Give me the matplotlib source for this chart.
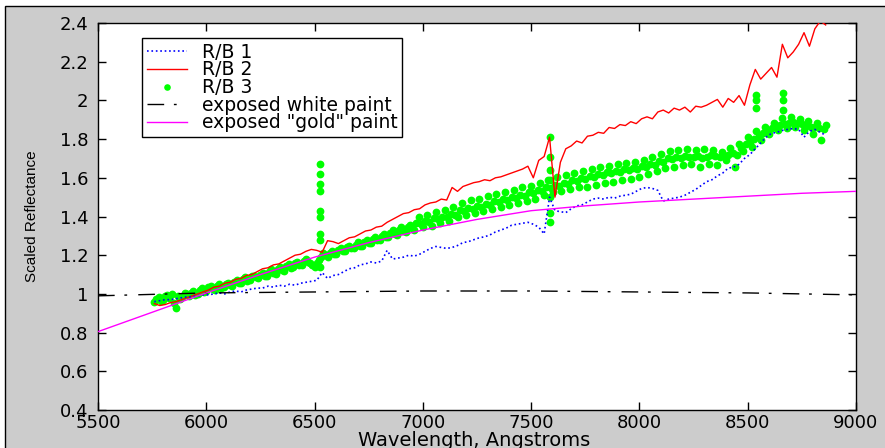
import matplotlib
matplotlib.use("Agg")
import matplotlib.pyplot as plt
from matplotlib.patches import Rectangle
import numpy as np

plt.rcParams['font.family'] = ['DejaVu Sans']

# sampling grids (Angstroms)
wl_line = np.arange(5760, 8861, 25)
wl_dots = np.arange(5760, 8861, 20)
wl_dots2 = np.arange(5770, 8851, 20)

rb1 = [0.96, 0.965, 0.97, 0.97, 0.975, 0.98, 0.985, 0.985, 0.99, 0.995,
       0.995, 1.0, 1.005, 1.0, 1.01, 1.015, 1.01, 1.02, 1.025, 1.03,
       1.03, 1.04, 1.035, 1.045, 1.04, 1.05, 1.045, 1.055, 1.06, 1.065,
       1.07, 1.11, 1.08, 1.095, 1.10, 1.115, 1.13, 1.135, 1.15, 1.155,
       1.165, 1.16, 1.17, 1.225, 1.18, 1.185, 1.19, 1.20, 1.195, 1.205,
       1.22, 1.235, 1.245, 1.24, 1.235, 1.24, 1.25, 1.265, 1.27, 1.28,
       1.29, 1.295, 1.305, 1.32, 1.33, 1.34, 1.355, 1.36, 1.365, 1.37,
       1.36, 1.345, 1.31, 1.50, 1.43, 1.425, 1.42, 1.44, 1.455, 1.46,
       1.475, 1.49, 1.495, 1.49, 1.50, 1.495, 1.505, 1.51, 1.515, 1.53,
       1.545, 1.55, 1.545, 1.535, 1.48, 1.49, 1.495, 1.50, 1.51, 1.525,
       1.54, 1.56, 1.58, 1.59, 1.61, 1.625, 1.65, 1.655, 1.67, 1.70,
       1.72, 1.75, 1.78, 1.81, 1.83, 1.835, 1.845, 1.85, 1.855, 1.85,
       1.81, 1.84, 1.85, 1.835, 1.82]

rb2 = [0.95, 0.94, 0.945, 0.955, 0.96, 0.97, 0.98, 0.99, 1.00, 1.01,
       1.02, 1.035, 1.04, 1.055, 1.06, 1.075, 1.08, 1.095, 1.10, 1.115,
       1.13, 1.135, 1.15, 1.155, 1.17, 1.185, 1.20, 1.205, 1.22, 1.23,
       1.225, 1.215, 1.275, 1.27, 1.26, 1.275, 1.29, 1.295, 1.31, 1.325,
       1.33, 1.345, 1.35, 1.37, 1.385, 1.40, 1.415, 1.42, 1.435, 1.44,
       1.46, 1.47, 1.475, 1.49, 1.485, 1.55, 1.53, 1.555, 1.565, 1.575,
       1.58, 1.59, 1.585, 1.60, 1.605, 1.615, 1.625, 1.635, 1.645, 1.66,
       1.60, 1.69, 1.71, 1.81, 1.50, 1.68, 1.75, 1.765, 1.79, 1.78,
       1.815, 1.82, 1.835, 1.83, 1.86, 1.855, 1.875, 1.87, 1.89, 1.88,
       1.905, 1.915, 1.905, 1.94, 1.95, 1.935, 1.96, 1.95, 1.965, 1.94,
       1.97, 1.965, 1.975, 1.99, 2.005, 1.965, 2.01, 1.99, 2.025, 1.975,
       2.08, 2.16, 2.11, 2.14, 2.17, 2.12, 2.29, 2.22, 2.25, 2.29,
       2.35, 2.28, 2.37, 2.41, 2.39]

# R/B 3 is a dense scatter: two interleaved readings of the band
rb3 = [0.96, 0.985, 0.97, 0.995, 1.0, 0.925, 0.975, 1.005, 0.99, 1.015,
       1.00, 1.03, 1.015, 1.04, 1.02, 1.05, 1.035, 1.055, 1.04, 1.07,
       1.055, 1.085, 1.07, 1.095, 1.08, 1.11, 1.095, 1.13, 1.105, 1.14,
       1.12, 1.155, 1.14, 1.165, 1.15, 1.18, 1.16, 1.14, 1.175, 1.21,
       1.19, 1.22, 1.205, 1.235, 1.22, 1.25, 1.235, 1.27, 1.25, 1.28,
       1.265, 1.295, 1.28, 1.31, 1.295, 1.33, 1.305, 1.345, 1.32, 1.355,
       1.33, 1.40, 1.345, 1.41, 1.35, 1.425, 1.365, 1.435, 1.375, 1.45,
       1.40, 1.47, 1.41, 1.485, 1.42, 1.49, 1.43, 1.505, 1.44, 1.515,
       1.45, 1.525, 1.46, 1.535, 1.47, 1.55, 1.48, 1.56, 1.49, 1.575,
       1.51, 1.59, 1.525, 1.605, 1.53, 1.615, 1.54, 1.625, 1.55, 1.635,
       1.555, 1.645, 1.565, 1.655, 1.575, 1.66, 1.58, 1.67, 1.59, 1.675,
       1.595, 1.68, 1.605, 1.69, 1.62, 1.705, 1.635, 1.725, 1.65, 1.74,
       1.655, 1.745, 1.665, 1.75, 1.67, 1.745, 1.655, 1.75, 1.67, 1.745,
       1.665, 1.735, 1.69, 1.755, 1.655, 1.775, 1.74, 1.81, 1.76, 1.84,
       1.795, 1.865, 1.825, 1.885, 1.845, 1.91, 1.855, 1.915, 1.865, 1.905,
       1.845, 1.895, 1.825, 1.885, 1.795, 1.875]

rb3_b = [0.975, 0.965, 0.99, 0.98, 0.955, 0.99, 0.985, 1.0, 1.005, 0.995,
         1.02, 1.01, 1.035, 1.025, 1.04, 1.03, 1.05, 1.045, 1.06, 1.055,
         1.075, 1.065, 1.09, 1.085, 1.10, 1.095, 1.115, 1.11, 1.13, 1.125,
         1.145, 1.135, 1.16, 1.15, 1.17, 1.165, 1.15, 1.16, 1.19, 1.20,
         1.21, 1.205, 1.225, 1.22, 1.24, 1.235, 1.255, 1.25, 1.27, 1.265,
         1.285, 1.28, 1.30, 1.295, 1.315, 1.31, 1.33, 1.325, 1.345, 1.34,
         1.365, 1.36, 1.375, 1.37, 1.39, 1.385, 1.40, 1.395, 1.415, 1.41,
         1.435, 1.43, 1.445, 1.44, 1.455, 1.45, 1.465, 1.46, 1.48, 1.475,
         1.49, 1.485, 1.50, 1.495, 1.51, 1.505, 1.525, 1.52, 1.535, 1.53,
         1.55, 1.545, 1.565, 1.56, 1.575, 1.57, 1.59, 1.585, 1.60, 1.595,
         1.61, 1.605, 1.62, 1.615, 1.63, 1.625, 1.635, 1.63, 1.645, 1.64,
         1.65, 1.645, 1.66, 1.655, 1.67, 1.665, 1.685, 1.68, 1.70, 1.695,
         1.71, 1.70, 1.715, 1.71, 1.705, 1.715, 1.70, 1.71, 1.72, 1.715,
         1.705, 1.715, 1.72, 1.73, 1.72, 1.755, 1.775, 1.785, 1.80, 1.815,
         1.83, 1.845, 1.855, 1.865, 1.875, 1.88, 1.885, 1.89, 1.885, 1.88,
         1.87, 1.865, 1.86, 1.855, 1.85]

# isolated R/B 3 points at the spikes
rb3_spike_wl = [6525, 6525, 6525, 6525, 6525, 6525, 6525, 6525, 6525,
                7585, 7585, 7585, 7585, 7585, 7585, 7585,
                8540, 8540, 8540, 8665, 8665, 8665]
rb3_spike_val = [1.67, 1.62, 1.57, 1.53, 1.43, 1.40, 1.31, 1.28, 1.14,
                 1.81, 1.71, 1.64, 1.59, 1.50, 1.42, 1.37,
                 2.03, 2.00, 1.96, 2.04, 2.00, 1.95]

white_wl = [5500, 6000, 6500, 7000, 7500, 8000, 8500, 9000]
white_val = [0.99, 1.005, 1.01, 1.015, 1.015, 1.01, 1.005, 0.995]

gold_wl = [5500, 5750, 6000, 6250, 6500, 6750, 7000, 7250, 7500,
           7750, 8000, 8250, 8500, 8750, 9000]
gold_val = [0.805, 0.905, 1.005, 1.10, 1.19, 1.265, 1.33, 1.385, 1.43,
            1.455, 1.475, 1.49, 1.505, 1.52, 1.53]

labels = ['R/B 1', 'R/B 2', 'R/B 3', 'exposed white paint', 'exposed "gold" paint']

W, H = 885, 448
fig = plt.figure(figsize=(W / 100, H / 100), dpi=100)
fig.patch.set_facecolor('white')
# grey window background with black frame line top/left
fig.add_artist(Rectangle((4.5 / W, -0.05), 1.1, 1.05 - 6.5 / H,
                         transform=fig.transFigure, facecolor='#cccccc',
                         edgecolor='black', linewidth=1, zorder=-5))

ax = fig.add_axes([98 / W, 38 / H, 758 / W, 387 / H])
ax.set_facecolor('white')

dot = dict(color='#00ff00', markersize=5.6, markeredgewidth=0, zorder=2)
g, = ax.plot(wl_dots, rb3, 'o', **dot)
ax.plot(wl_dots2, rb3_b, 'o', **dot)
ax.plot(rb3_spike_wl, rb3_spike_val, 'o', **dot)
r, = ax.plot(wl_line, rb2, '-', color='#ff0000', linewidth=1, zorder=3)
b, = ax.plot(wl_line, rb1, ':', color='#0000ff', linewidth=1.2, zorder=4)
k, = ax.plot(white_wl, white_val, color='black', linewidth=1,
             dashes=(12, 7, 2, 8), zorder=4)
m, = ax.plot(gold_wl, gold_val, '-', color='#ff00ff', linewidth=1, zorder=5)

ax.set_xlim(5500, 9000)
ax.set_ylim(0.4, 2.4)
ax.set_xticks(np.arange(5500, 9001, 500))
yt = np.arange(0.4, 2.41, 0.2)
ax.set_yticks(yt)
ax.set_yticklabels([f'{v:g}' for v in np.round(yt, 1)])
ax.tick_params(direction='in', top=True, right=True, length=6, width=1,
               labelsize=13, colors='black')
ax.tick_params(axis='y', pad=7)
ax.tick_params(axis='x', pad=3)
for s in ax.spines.values():
    s.set_linewidth(1)
    s.set_color('black')

leg = ax.legend([b, r, g, k, m], labels, loc='upper left',
                bbox_to_anchor=(0.058, 0.9612), borderaxespad=0,
                fontsize=13.5, fancybox=False, framealpha=1,
                edgecolor='black', borderpad=0.25, labelspacing=-0.07,
                handlelength=2.15, handletextpad=0.8, numpoints=1,
                markerscale=0.85)
leg.get_frame().set_linewidth(1)

fig.text(32 / W, 1 - 216 / H, 'Scaled Reflectance', rotation=90,
         ha='center', va='center', fontsize=11, family='Liberation Sans')
fig.text(474 / W, 1 - 431 / H, 'Wavelength, Angstroms', ha='center',
         va='top', fontsize=14)

fig.savefig('out.png', dpi=100)
